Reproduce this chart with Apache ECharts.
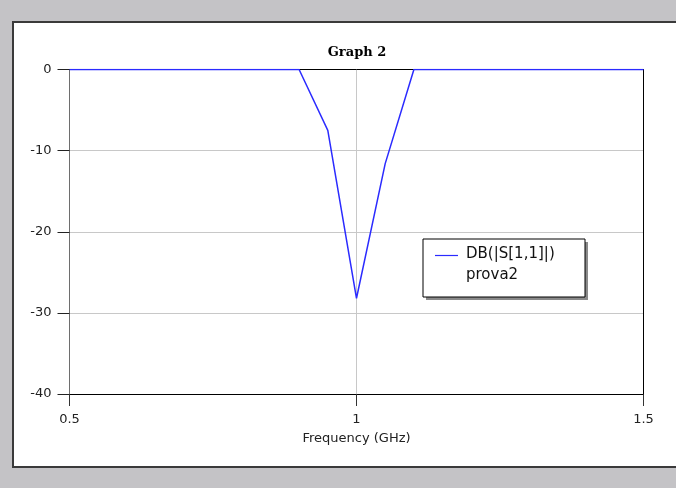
<!DOCTYPE html>
<html>
<head>
<meta charset="utf-8">
<script src="https://cdn.jsdelivr.net/npm/echarts@6/dist/echarts.min.js"></script>
<style>
  html, body { margin: 0; padding: 0; background: #c4c3c6; }
  #chart { width: 676px; height: 488px; }
</style>
</head>
<body>
<div id="chart"></div>
<script>
// Sweep frequencies (GHz) and the return loss trace in dB
const freqGHz = [0.5, 0.55, 0.6, 0.65, 0.7, 0.75, 0.8, 0.85, 0.9, 0.95, 1.0,
                 1.05, 1.1, 1.15, 1.2, 1.25, 1.3, 1.35, 1.4, 1.45, 1.5];
const s11dB   = [0, 0, 0, 0, 0, 0, 0, 0, 0, -7.5, -28.2,
                 -11.6, 0, 0, 0, 0, 0, 0, 0, 0, 0];

const chartTitle = 'Graph 2';
const traceName = 'DB(|S[1,1]|)';
const docName = 'prova2';
const xName = 'Frequency (GHz)';

const traceColor = '#2b2bff';
const labelFont = 'DejaVu Sans';

const chart = echarts.init(document.getElementById('chart'), null, { renderer: 'canvas' });

const seriesData = freqGHz.map((f, i) => [f, s11dB[i]]);

chart.setOption({
  animation: false,
  backgroundColor: '#c4c3c6',
  grid: { left: 69.5, right: 32.5, top: 69.5, bottom: 94, containLabel: false },
  xAxis: [
    {
      type: 'value', position: 'bottom', min: 0.5, max: 1.5, interval: 0.5,
      axisLine: { show: true, onZero: false, lineStyle: { color: '#000', width: 1 } },
      axisTick: { show: true, inside: false, length: 12, lineStyle: { color: '#333', width: 1 } },
      axisLabel: { margin: 19, fontFamily: labelFont, fontSize: 13, color: '#222' },
      splitLine: { show: true, lineStyle: { color: '#c8c8c8', width: 1 } },
      name: xName, nameLocation: 'middle', nameGap: 38,
      nameTextStyle: { fontFamily: labelFont, fontSize: 13, color: '#222' }
    },
    {
      type: 'value', position: 'top', min: 0.5, max: 1.5,
      axisLine: { show: true, onZero: false, lineStyle: { color: '#000', width: 1 } },
      axisTick: { show: false }, axisLabel: { show: false }, splitLine: { show: false }
    }
  ],
  yAxis: [
    {
      type: 'value', position: 'left', min: -40, max: 0, interval: 10,
      axisLine: { show: true, onZero: false, lineStyle: { color: '#6e6e6e', width: 1 } },
      axisTick: { show: true, inside: false, length: 12, lineStyle: { color: '#222', width: 1 } },
      axisLabel: { margin: 18, fontFamily: labelFont, fontSize: 13, color: '#222' },
      splitLine: { show: true, lineStyle: { color: '#c8c8c8', width: 1 } }
    },
    {
      type: 'value', position: 'right', min: -40, max: 0, z: 4,
      axisLine: { show: true, onZero: false, lineStyle: { color: '#000', width: 1 } },
      axisTick: { show: false }, axisLabel: { show: false }, splitLine: { show: false }
    }
  ],
  series: [
    {
      name: traceName, type: 'line', xAxisIndex: 0, yAxisIndex: 0,
      data: seriesData, showSymbol: false, symbol: 'none',
      lineStyle: { color: traceColor, width: 1.5 }, z: 5
    }
  ],
  graphic: [
    // white panel behind the plot
    {
      type: 'rect', z: -10, silent: true,
      shape: { x: 13, y: 22, width: 700, height: 445 },
      style: { fill: '#ffffff', stroke: '#3a3a3a', lineWidth: 2 }
    },
    {
      type: 'text', z: 10, silent: true,
      x: 357, y: 53,
      style: {
        text: chartTitle, fill: '#000', font: 'bold 13px "DejaVu Serif"',
        textAlign: 'center', textVerticalAlign: 'middle'
      }
    },
    // legend box with drop shadow
    {
      type: 'group', z: 100, silent: true,
      children: [
        { type: 'rect', shape: { x: 426, y: 242, width: 162, height: 58 },
          style: { fill: '#8a8a8a' } },
        { type: 'rect', shape: { x: 423, y: 239, width: 162, height: 58 },
          style: { fill: '#ffffff', stroke: '#000', lineWidth: 1 } },
        { type: 'line', shape: { x1: 435, y1: 255.5, x2: 458, y2: 255.5 },
          style: { stroke: traceColor, lineWidth: 1.2 } },
        { type: 'text', x: 466, y: 254,
          style: { text: traceName, fill: '#111', font: '15px "DejaVu Sans"',
                   textAlign: 'left', textVerticalAlign: 'middle' } },
        { type: 'text', x: 466, y: 275,
          style: { text: docName, fill: '#111', font: '15px "DejaVu Sans"',
                   textAlign: 'left', textVerticalAlign: 'middle' } }
      ]
    }
  ]
});
</script>
</body>
</html>
